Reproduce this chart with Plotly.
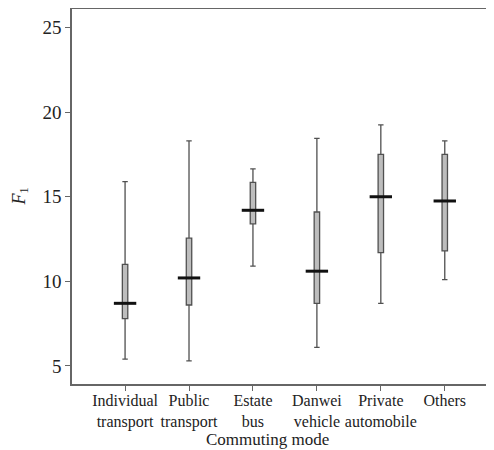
import plotly.graph_objects as go

categories = ["Individual<br>transport", "Public<br>transport", "Estate<br>bus",
              "Danwei<br>vehicle", "Private<br>automobile", "Others"]
lower = [5.4, 5.3, 10.9, 6.1, 8.7, 10.1]
q1 = [7.8, 8.6, 13.4, 8.7, 11.7, 11.8]
median = [8.7, 10.2, 14.2, 10.6, 15.0, 14.75]
q3 = [11.0, 12.55, 15.85, 14.1, 17.5, 17.5]
upper = [15.9, 18.3, 16.65, 18.45, 19.25, 18.3]
y_ticks = [5, 10, 15, 20, 25]

font_family = "Liberation Serif, Times New Roman, serif"

fig = go.Figure()
fig.add_trace(go.Box(
    x=categories, q1=q1, median=median, q3=q3,
    lowerfence=lower, upperfence=upper,
    width=0.085, whiskerwidth=1,
    fillcolor="#bdbdbd",
    line=dict(color="#505050", width=1.3),
    boxpoints=False, showlegend=False, hoverinfo="skip",
))
fig.add_trace(go.Scatter(
    x=categories, y=median, mode="markers",
    marker=dict(symbol="line-ew", size=16,
                line=dict(color="#111111", width=3)),
    showlegend=False, hoverinfo="skip",
))

fig.add_annotation(
    text="Commuting mode", xref="paper", yref="paper",
    x=0.464, y=0, yshift=-55, xanchor="center", yanchor="middle",
    showarrow=False, font=dict(size=17, family=font_family, color="#222222"),
)
fig.add_annotation(
    text="<i>F</i><sub>1</sub>", xref="paper", yref="paper",
    x=0, y=0.5, xshift=-52, xanchor="center", yanchor="middle",
    textangle=-90, showarrow=False,
    font=dict(size=18, family=font_family, color="#222222"),
)

fig.update_layout(
    width=486, height=442,
    margin=dict(l=64, r=0, t=1, b=66, autoexpand=False),
    paper_bgcolor="white", plot_bgcolor="white",
    font=dict(family=font_family, color="#222222"),
)
fig.update_xaxes(
    type="category", range=[-0.83, 5.77],
    showline=True, linecolor="#666666", linewidth=1.5, mirror=True,
    showgrid=False, zeroline=False, automargin=False,
    ticks="outside", ticklen=5, tickcolor="#666666", tickangle=0,
    ticklabelstandoff=-4,
    tickfont=dict(size=16, family=font_family),
)
fig.update_yaxes(
    range=[3.93, 26.1], tickvals=y_ticks,
    showline=True, linecolor="#666666", linewidth=1.5, mirror=False,
    showgrid=False, zeroline=False, automargin=False,
    ticks="outside", ticklen=5, tickcolor="#666666",
    tickfont=dict(size=19, family=font_family),
)

fig.write_html("out.html")
